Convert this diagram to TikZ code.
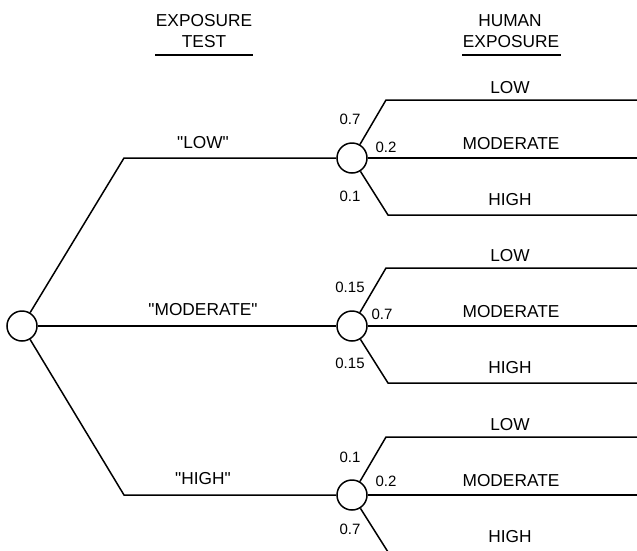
\documentclass[tikz,border=0pt]{standalone}
\usepackage{fontspec}
\setmainfont{Liberation Sans}
\begin{document}
\begin{tikzpicture}[x=1pt,y=-1pt,
  br/.style={line width=1.5pt},
  chance/.style={circle,draw,line width=1.5pt,fill=white,minimum size=30pt,inner sep=0pt},
  big/.style={font=\fontsize{17.3}{21.7}\selectfont,inner sep=0pt,anchor=base},
  prob/.style={font=\fontsize{15}{18}\selectfont,inner sep=0pt,anchor=base}]
\clip (0,0) rectangle (637,550);
% headers
\node[big] (h1a) at (204,26) {EXPOSURE};
\node[big] (h1b) at (204,47.7) {TEST};
\node[big] (h2a) at (510,26) {HUMAN};
\node[big] (h2b) at (511,47.7) {EXPOSURE};
\coordinate (u1l) at (155,55); \coordinate (u1r) at (253,55);
\coordinate (u2l) at (462,55); \coordinate (u2r) at (561,55);
\draw[br] (u1l) -- (u1r);
\draw[br] (u2l) -- (u2r);
% nodes
\coordinate (a1) at (124,158);
\coordinate (a3) at (124,495);
\node[chance] (r) at (22,326) {};
\node[chance] (c1) at (352,158) {};
\node[chance] (c2) at (352,326) {};
\node[chance] (c3) at (352,495) {};
\draw[br] (r) -- (a1) -- (c1);
\draw[br] (r) -- (c2);
\draw[br] (r) -- (a3) -- (c3);
\node[big] (l1) at (203,148) {\textquotedbl LOW\textquotedbl};
\node[big] (l2) at (203,315) {\textquotedbl MODERATE\textquotedbl};
\node[big] (l3) at (203,484) {\textquotedbl HIGH\textquotedbl};
% right branches
\foreach \n/\y in {1/158,2/326,3/495}{
  \coordinate (up\n) at (386,\y-58);
  \coordinate (upe\n) at (645,\y-58);
  \coordinate (me\n) at (645,\y);
  \coordinate (dn\n) at (388,\y+57);
  \coordinate (dne\n) at (645,\y+57);
  \draw[br] (c\n) -- (up\n) -- (upe\n);
  \draw[br] (c\n) -- (me\n);
  \draw[br] (c\n) -- (dn\n) -- (dne\n);
  \node[big] (ol\n) at (510,\y-65) {LOW};
  \node[big] (om\n) at (511,\y-9) {MODERATE};
  \node[big] (oh\n) at (510,\y+47) {HIGH};
}
% probabilities
\node[prob] (p11) at (350,124.5) {0.7};
\node[prob] (p12) at (386,152.5) {0.2};
\node[prob] (p13) at (350,201.5) {0.1};
\node[prob] (p21) at (350,292.5) {0.15};
\node[prob] (p22) at (382,319.5) {0.7};
\node[prob] (p23) at (350,368.5) {0.15};
\node[prob] (p31) at (350,462.5) {0.1};
\node[prob] (p32) at (386,486.5) {0.2};
\node[prob] (p33) at (350,534.5) {0.7};
\end{tikzpicture}
\end{document}
